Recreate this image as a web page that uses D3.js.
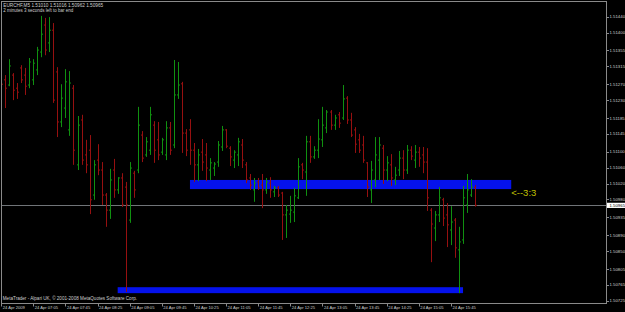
<!DOCTYPE html>
<html>
<head>
<meta charset="utf-8">
<script src="https://cdn.jsdelivr.net/npm/d3@7"></script>
<style>
  body { margin: 0; background: #000; }
  svg { display: block; }
  text { font-family: "Liberation Sans", Arial, sans-serif; }
</style>
</head>
<body>
<div id="chart"></div>
<script>
// EURCHF M5, 24 Apr 2009, one bar every 5 minutes from firstBar
const firstBar = "06:25";

const opens = [
  1.51281, 1.51281, 1.51268, 1.51293, 1.51260, 1.51311, 1.51293, 1.51268, 1.51281, 1.51306,
  1.51351, 1.51419, 1.51374, 1.51406, 1.51301, 1.51175, 1.51210, 1.51155, 1.51260, 1.51067,
  1.51180, 1.51092, 1.51104, 1.50991, 1.51079, 1.51054, 1.50991, 1.50953, 1.51054, 1.51004,
  1.51034, 1.51011, 1.50928, 1.51046, 1.51054, 1.51142, 1.51092, 1.51104, 1.51167, 1.51130,
  1.51099, 1.51092, 1.51160, 1.51117, 1.51243, 1.51271, 1.51147, 1.51155, 1.51104, 1.51067,
  1.51099, 1.51092, 1.51054, 1.51059, 1.51074, 1.51112, 1.51155, 1.51109, 1.51079, 1.51092,
  1.51117, 1.51067, 1.51034, 1.51004, 1.51024, 1.51016, 1.51004, 1.51021, 1.50999, 1.51009,
  1.50996, 1.50941, 1.50943, 1.50948, 1.50984, 1.51067, 1.51049, 1.51125, 1.51087, 1.51104,
  1.51130, 1.51160, 1.51200, 1.51167, 1.51193, 1.51185, 1.51235, 1.51180, 1.51155, 1.51130,
  1.51117, 1.51072, 1.51004, 1.51029, 1.51079, 1.51109, 1.51054, 1.51067, 1.51029, 1.51054,
  1.51084, 1.51054, 1.51104, 1.51079, 1.51099, 1.51092, 1.51074, 1.50953, 1.50908, 1.50941,
  1.50979, 1.50941, 1.50903, 1.50928, 1.50853, 1.50878, 1.50966, 1.50991, 1.51010
];
const highs = [
  1.51286, 1.51293, 1.51333, 1.51298, 1.51273, 1.51318, 1.51311, 1.51336, 1.51333, 1.51364,
  1.51442, 1.51437, 1.51439, 1.51424, 1.51313, 1.51270, 1.51308, 1.51303, 1.51268, 1.51190,
  1.51193, 1.51130, 1.51142, 1.51079, 1.51119, 1.51074, 1.50996, 1.51057, 1.51082, 1.51036,
  1.51046, 1.51024, 1.51074, 1.51052, 1.51213, 1.51152, 1.51137, 1.51213, 1.51177, 1.51175,
  1.51135, 1.51177, 1.51175, 1.51331, 1.51326, 1.51276, 1.51157, 1.51182, 1.51122, 1.51107,
  1.51132, 1.51122, 1.51084, 1.51074, 1.51127, 1.51165, 1.51157, 1.51114, 1.51104, 1.51135,
  1.51132, 1.51074, 1.51044, 1.51034, 1.51034, 1.51044, 1.51034, 1.51036, 1.51014, 1.51014,
  1.50999, 1.50966, 1.50989, 1.51009, 1.51084, 1.51072, 1.51140, 1.51140, 1.51114, 1.51182,
  1.51213, 1.51205, 1.51205, 1.51193, 1.51200, 1.51268, 1.51240, 1.51198, 1.51162, 1.51145,
  1.51140, 1.51074, 1.51077, 1.51137, 1.51137, 1.51117, 1.51089, 1.51094, 1.51062, 1.51102,
  1.51104, 1.51117, 1.51114, 1.51117, 1.51112, 1.51112, 1.51109, 1.50958, 1.50951, 1.51011,
  1.50984, 1.50971, 1.50963, 1.50933, 1.50911, 1.51014, 1.51044, 1.51031, 1.51016
];
const lows = [
  1.51255, 1.51210, 1.51265, 1.51230, 1.51233, 1.51273, 1.51243, 1.51260, 1.51268, 1.51293,
  1.51338, 1.51343, 1.51351, 1.51223, 1.51137, 1.51162, 1.51185, 1.51140, 1.51067, 1.51054,
  1.51067, 1.51046, 1.50943, 1.50979, 1.51041, 1.50966, 1.50911, 1.50931, 1.50984, 1.50994,
  1.50961, 1.50747, 1.50921, 1.50984, 1.51046, 1.51074, 1.51087, 1.51092, 1.51072, 1.51079,
  1.51092, 1.51079, 1.51092, 1.51109, 1.51233, 1.51097, 1.51089, 1.51067, 1.51024, 1.51026,
  1.51052, 1.51026, 1.51029, 1.51039, 1.51062, 1.51102, 1.51109, 1.51064, 1.51059, 1.51064,
  1.51059, 1.51021, 1.51004, 1.50974, 1.51004, 1.50958, 1.50994, 1.50984, 1.50986, 1.50986,
  1.50878, 1.50883, 1.50921, 1.50923, 1.50981, 1.51031, 1.50989, 1.51072, 1.51082, 1.51084,
  1.51112, 1.51147, 1.51155, 1.51155, 1.51160, 1.51180, 1.51170, 1.51137, 1.51097, 1.51097,
  1.51072, 1.50986, 1.50971, 1.51011, 1.51029, 1.51019, 1.51026, 1.51014, 1.51016, 1.51039,
  1.51031, 1.51044, 1.51079, 1.51059, 1.51062, 1.51046, 1.50951, 1.50822, 1.50875, 1.50923,
  1.50913, 1.50860, 1.50865, 1.50833, 1.50744, 1.50868, 1.50946, 1.50986, 1.50962
];
const closes = [
  1.51270, 1.51260, 1.51316, 1.51255, 1.51250, 1.51281, 1.51265, 1.51326, 1.51323, 1.51356,
  1.51396, 1.51356, 1.51406, 1.51230, 1.51175, 1.51235, 1.51276, 1.51273, 1.51104, 1.51167,
  1.51079, 1.51067, 1.50979, 1.51067, 1.51054, 1.50991, 1.50953, 1.51029, 1.51004, 1.51034,
  1.50966, 1.50966, 1.51059, 1.51004, 1.51167, 1.51084, 1.51125, 1.51193, 1.51104, 1.51092,
  1.51130, 1.51160, 1.51104, 1.51243, 1.51268, 1.51147, 1.51104, 1.51104, 1.51067, 1.51092,
  1.51074, 1.51059, 1.51072, 1.51069, 1.51117, 1.51155, 1.51114, 1.51087, 1.51099, 1.51125,
  1.51079, 1.51029, 1.51016, 1.51021, 1.51009, 1.51004, 1.51024, 1.51004, 1.51009, 1.50991,
  1.50941, 1.50953, 1.50953, 1.50989, 1.51062, 1.51054, 1.51125, 1.51087, 1.51104, 1.51132,
  1.51167, 1.51200, 1.51167, 1.51185, 1.51172, 1.51233, 1.51180, 1.51142, 1.51119, 1.51104,
  1.51079, 1.51011, 1.51054, 1.51092, 1.51117, 1.51054, 1.51072, 1.51034, 1.51041, 1.51084,
  1.51054, 1.51104, 1.51089, 1.51099, 1.51084, 1.51074, 1.50984, 1.50918, 1.50941, 1.50984,
  1.50933, 1.50916, 1.50923, 1.50858, 1.50873, 1.50984, 1.51004, 1.51011, 1.50965
];

const priceTicks = [
  1.51440, 1.51400, 1.51355, 1.51315, 1.51270, 1.51230, 1.51185, 1.51145, 1.51100,
  1.51060, 1.51020, 1.50980, 1.50935, 1.50890, 1.50850, 1.50805, 1.50765, 1.50725
];
const timeTicks = ["06:25", "07:05", "07:45", "08:25", "09:05", "09:45", "10:25", "11:05",
  "11:45", "12:25", "13:05", "13:45", "14:25", "15:05", "15:45"];
const timeTickLabels = ["24 Apr 2009", "24 Apr 07:05", "24 Apr 07:45", "24 Apr 08:25",
  "24 Apr 09:05", "24 Apr 09:45", "24 Apr 10:25", "24 Apr 11:05", "24 Apr 11:45",
  "24 Apr 12:25", "24 Apr 13:05", "24 Apr 13:45", "24 Apr 14:25", "24 Apr 15:05", "24 Apr 15:45"];

// rectangles drawn on the chart (time from/to, price top/bottom)
const zoneFrom = ["10:20", "08:50"];
const zoneTo = ["17:00", "16:00"];
const zoneTop = [1.51029, 1.50759];
const zoneBottom = [1.51006, 1.50744];

const noteTime = "17:00";
const notePrice = 1.50988;
const noteText = "<--3:3";

const symbolLine = "EURCHF,M5  1.51010 1.51016 1.50962 1.50965";
const timerLine = "2 minutes 3 seconds left to bar end";
const copyright = "MetaTrader - Alpari UK, \u00a9 2001-2008 MetaQuotes Software Corp.";
const bidPrice = 1.50965;

const width = 625, height = 312;
const plotL = 1.5, plotT = 1.5, plotR = 606.5, plotB = 303.5;
const frameColor = "#8a8a8a";
const textColor = "#cfcfcf";

const toMin = t => {
  const p = t.split(":").map(Number);
  return p[0] * 60 + p[1];
};

const t0 = toMin(firstBar);
const n = closes.length;
const bars = closes.map((c, i) => ({
  t: t0 + i * 5, o: opens[i], h: highs[i], l: lows[i], c: c
}));

const x = d3.scaleLinear()
  .domain([t0, t0 + (n - 1) * 5])
  .range([1.2, 1.2 + (n - 1) * 4.016]);
const y = d3.scaleLinear()
  .domain([1.50725, 1.51440])
  .range([300.7, 16.7]);

const svg = d3.select("#chart").append("svg")
  .attr("width", width)
  .attr("height", height);

svg.append("rect")
  .attr("width", width)
  .attr("height", height)
  .attr("fill", "#000");

svg.append("clipPath").attr("id", "plot")
  .append("rect")
  .attr("x", plotL).attr("y", plotT)
  .attr("width", plotR - plotL).attr("height", plotB - plotT);

const plot = svg.append("g").attr("clip-path", "url(#plot)");

// blue rectangles
plot.selectAll(".zone")
  .data(zoneFrom)
  .enter()
  .append("rect")
  .attr("class", "zone")
  .attr("x", d => x(toMin(d)))
  .attr("width", (d, i) => x(toMin(zoneTo[i])) - x(toMin(d)))
  .attr("y", (d, i) => y(zoneTop[i]))
  .attr("height", (d, i) => y(zoneBottom[i]) - y(zoneTop[i]))
  .attr("fill", "#0512ec");

// bid line
plot.append("line")
  .attr("x1", plotL).attr("x2", plotR)
  .attr("y1", Math.round(y(bidPrice)) + 0.5)
  .attr("y2", Math.round(y(bidPrice)) + 0.5)
  .attr("stroke", "#707478")
  .attr("stroke-width", 1);

// OHLC bars
const barColor = d => (d.c >= d.o ? "#109010" : "#961010");
const bx = d => Math.round(x(d.t)) + 0.5;

const bar = plot.selectAll(".bar")
  .data(bars)
  .enter()
  .append("g")
  .attr("class", "bar")
  .attr("stroke", barColor)
  .attr("stroke-width", 1);

bar.append("line")
  .attr("x1", bx).attr("x2", bx)
  .attr("y1", d => y(d.h)).attr("y2", d => y(d.l));
bar.append("line")
  .attr("x1", d => bx(d) - 1.5).attr("x2", d => bx(d))
  .attr("y1", d => y(d.o)).attr("y2", d => y(d.o));
bar.append("line")
  .attr("x1", d => bx(d)).attr("x2", d => bx(d) + 1.5)
  .attr("y1", d => y(d.c)).attr("y2", d => y(d.c));

// note text
svg.append("text")
  .attr("x", x(toMin(noteTime)))
  .attr("y", y(notePrice))
  .attr("fill", "#c0c000")
  .style("font-size", "9.5px")
  .text(noteText);

// frame
svg.append("rect")
  .attr("x", plotL).attr("y", plotT)
  .attr("width", plotR - plotL).attr("height", plotB - plotT)
  .attr("fill", "none")
  .attr("stroke", frameColor)
  .attr("stroke-width", 1);

// price axis
const py = svg.append("g");
py.selectAll("line")
  .data(priceTicks)
  .enter()
  .append("line")
  .attr("x1", plotR).attr("x2", plotR + 2.5)
  .attr("y1", d => Math.round(y(d)) + 0.5)
  .attr("y2", d => Math.round(y(d)) + 0.5)
  .attr("stroke", frameColor);
py.selectAll("text")
  .data(priceTicks)
  .enter()
  .append("text")
  .attr("x", plotR + 3)
  .attr("y", d => y(d) + 1.6)
  .attr("fill", textColor)
  .style("font-size", "4.3px")
  .text(d => d.toFixed(5));

// bid price box
svg.append("rect")
  .attr("x", plotR + 0.5)
  .attr("y", y(bidPrice) - 2.6)
  .attr("width", width - plotR)
  .attr("height", 5.2)
  .attr("fill", "#fff");
svg.append("text")
  .attr("x", plotR + 3)
  .attr("y", y(bidPrice) + 1.6)
  .attr("fill", "#000")
  .style("font-size", "4.3px")
  .text(bidPrice.toFixed(5));

// time axis
const tx = svg.append("g");
tx.selectAll("line")
  .data(timeTicks)
  .enter()
  .append("line")
  .attr("x1", d => Math.round(x(toMin(d))) + 0.5)
  .attr("x2", d => Math.round(x(toMin(d))) + 0.5)
  .attr("y1", plotB).attr("y2", plotB + 3)
  .attr("stroke", frameColor);
tx.selectAll("text")
  .data(timeTicks)
  .enter()
  .append("text")
  .attr("x", d => x(toMin(d)) + 1.5)
  .attr("y", 309.3)
  .attr("fill", textColor)
  .style("font-size", "4.1px")
  .text((d, i) => timeTickLabels[i]);

// header and footer texts
svg.append("text")
  .attr("x", 3.3).attr("y", 7.2)
  .attr("fill", textColor)
  .style("font-size", "4.7px")
  .text(symbolLine);
svg.append("text")
  .attr("x", 3.3).attr("y", 11.6)
  .attr("fill", textColor)
  .style("font-size", "4.5px")
  .text(timerLine);
svg.append("text")
  .attr("x", 2.8).attr("y", 300.3)
  .attr("fill", textColor)
  .style("font-size", "4.6px")
  .text(copyright);
</script>
</body>
</html>
